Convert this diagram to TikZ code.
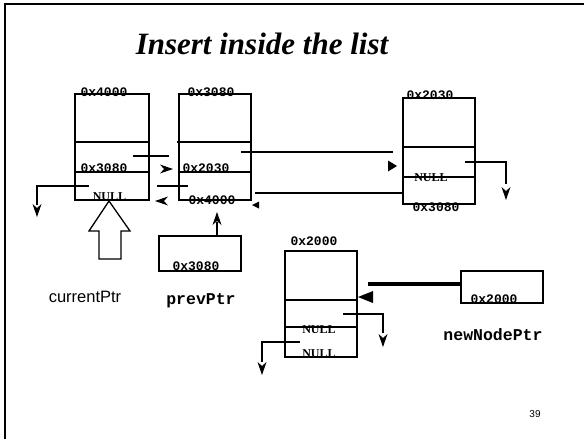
\documentclass[tikz,border=0pt]{standalone}
\usepackage{fontspec}
\setmainfont{Liberation Serif}
\newfontfamily\sansfont{Liberation Sans}
\newfontfamily\monofont{Liberation Mono}
\begin{document}
\begin{tikzpicture}[x=1pt,y=-1pt,
  cell/.style={draw, line width=1.3pt, inner sep=0pt},
  link/.style={line width=1.2pt},
  hexlbl/.style={font=\monofont\bfseries\fontsize{13}{14}\selectfont, anchor=base, inner sep=0pt},
  nulllbl/.style={font=\bfseries\fontsize{12}{13}\selectfont, anchor=base, inner sep=0pt},
  ptrname/.style={font=\monofont\bfseries\fontsize{16.5}{18}\selectfont, inner sep=0pt},
  notch/.pic={\fill (0,0) -- (-13,-4.5) -- (-9,0) -- (-13,4.5) -- cycle;},
  tri/.pic={\fill (0,0) -- (-1,-0.5) -- (-1,0.5) -- cycle;}]
\useasboundingbox (0,0) rectangle (584,439);

% slide frame (top and left edges)
\draw[line width=2pt] (5,439) -- (5,4) -- (584,4);

% title
\node[font=\bfseries\itshape\fontsize{31}{36}\selectfont, anchor=base, inner sep=0pt] (title) at (262,54) {Insert inside the list};

% list nodes
\node[cell, minimum width=74pt, minimum height=106pt] (A) at (112,147) {};
\node[cell, minimum width=72pt, minimum height=106pt] (B) at (215,147) {};
\node[cell, minimum width=72pt, minimum height=106pt] (C) at (439,151) {};
\node[cell, minimum width=72pt, minimum height=106pt] (D) at (321,304) {};
\draw[line width=1.3pt] (75,142) -- (149,142) (75,172) -- (149,172);
\draw[line width=1.3pt] (177,142) -- (251,142) (179,172) -- (251,172);
\draw[line width=1.3pt] (403,147) -- (475,147) (403,177) -- (475,177);
\draw[line width=1.3pt] (285,300) -- (357,300) (285,327) -- (357,327);

% pointer variables
\node[cell, minimum width=82pt, minimum height=35pt] (P) at (200,253.5) {};
\node[cell, minimum width=82pt, minimum height=32pt] (N) at (502,287) {};

% addresses and field values
\node[hexlbl] (aAddr) at (104,96) {0x4000};
\node[hexlbl] (bAddr) at (211,96) {0x3080};
\node[hexlbl] (aNext) at (104,172) {0x3080};
\node[hexlbl] (bNext) at (206,172) {0x2030};
\node[hexlbl] (bPrev) at (212,204) {0x4000};
\node[hexlbl] (cAddr) at (430,99) {0x2030};
\node[hexlbl] (cPrev) at (436,211) {0x3080};
\node[hexlbl] (dAddr) at (314,245) {0x2000};
\node[hexlbl] (pVal) at (196,270) {0x3080};
\node[hexlbl] (nVal) at (494,303) {0x2000};
\node[nulllbl] (aNull) at (109.5,200) {NULL};
\node[nulllbl] (cNull) at (431,181) {NULL};
\node[nulllbl] (dNullA) at (319,333) {NULL};
\node[nulllbl] (dNullB) at (319,357) {NULL};

% names
\node[ptrname] (pName) at (201,301) {prevPtr};
\node[ptrname] (nName) at (493,335) {newNodePtr};
\node[font=\sansfont\fontsize{16.5}{18}\selectfont, inner sep=0pt] (cName) at (85,297) {currentPtr};
\node[font=\sansfont\fontsize{10}{12}\selectfont, inner sep=0pt] (page) at (535,414) {39};

% block arrow for currentPtr
\draw[line width=1.3pt, fill=white] (109,201) -- (130,231) -- (121,231) -- (121,259)
  -- (99,259) -- (99,231) -- (89,231) -- cycle;

% A.next -> B
\coordinate (a1) at (133,156);
\coordinate (a1e) at (169,156);
\draw[link] (a1) -- (a1e);
\pic at (173,169) {notch};

% A.prev -> NULL
\coordinate (a2) at (89,186);
\coordinate (a2c) at (37,186);
\coordinate (a2e) at (37,205);
\draw[link] (a2) -- (a2c) -- (a2e);
\pic[rotate=-90] at (37,217) {notch};

% B.prev -> A
\coordinate (b1) at (188,186);
\coordinate (b1e) at (157,186);
\draw[link] (b1) -- (b1e);
\pic[rotate=180] at (155,201) {notch};

% prevPtr -> B
\coordinate (p1) at (217,236);
\coordinate (p1e) at (217,222);
\draw[link] (p1) -- (p1e);
\pic[rotate=90] at (217,212) {notch};

% B.next -> C
\coordinate (b2) at (241,152);
\coordinate (b2e) at (393,152);
\draw[link] (b2) -- (b2e);
\pic[xscale=9, yscale=11] at (397,166) {tri};

% C.prev -> B
\coordinate (c1) at (403,193);
\coordinate (c1e) at (255,193);
\draw[link] (c1) -- (c1e);
\pic[rotate=180, xscale=7, yscale=7] at (252,205) {tri};

% C.next -> NULL
\coordinate (c2) at (465,162);
\coordinate (c2c) at (506,162);
\coordinate (c2e) at (506,184);
\draw[link] (c2) -- (c2c) -- (c2e);
\pic[rotate=-90] at (506,200) {notch};

% newNodePtr -> D
\coordinate (n1) at (461,284);
\coordinate (n1e) at (368,284);
\draw[line width=3.5pt] (n1) -- (n1e);
\pic[rotate=180, xscale=15, yscale=12] at (358,297) {tri};

% D.next -> NULL
\coordinate (d1) at (343,314);
\coordinate (d1c) at (383,314);
\coordinate (d1e) at (383,333);
\draw[link] (d1) -- (d1c) -- (d1e);
\pic[rotate=-90] at (383,347) {notch};

% D.prev -> NULL
\coordinate (d2) at (300,342);
\coordinate (d2c) at (262,342);
\coordinate (d2e) at (262,362);
\draw[link] (d2) -- (d2c) -- (d2e);
\pic[rotate=-90] at (262,375) {notch};
\end{tikzpicture}
\end{document}
